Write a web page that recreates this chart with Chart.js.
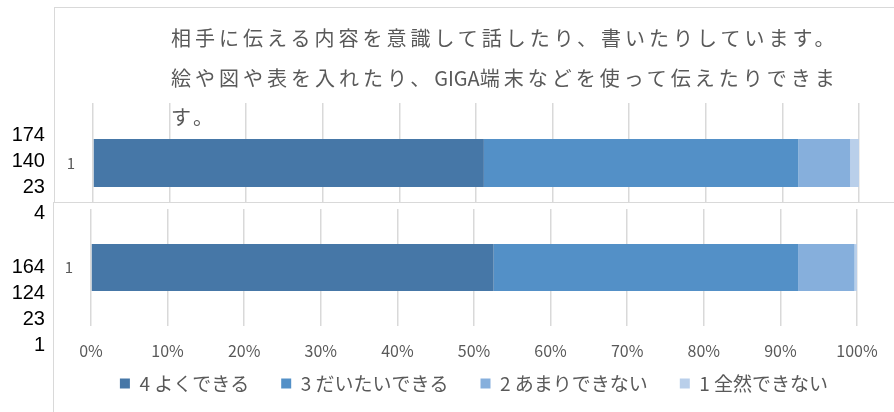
<!DOCTYPE html>
<html>
<head>
<meta charset="utf-8">
<script src="https://cdn.jsdelivr.net/npm/chart.js@4"></script>
<style>
  body { margin: 0; background: #fff; width: 894px; height: 412px; overflow: hidden; position: relative; font-family: "Noto Sans CJK JP", sans-serif; }
  .frame { position: absolute; border-top: 1px solid #d9d9d9; border-left: 1px solid #d9d9d9; }
  #frameTop { left: 54px; top: 7px; width: 900px; height: 194px; z-index: 1; }
  #frameBottom { left: 53px; top: 202px; width: 900px; height: 300px; background: #fff; z-index: 3; }
  #wrapTop { position: absolute; left: 0; top: 0; width: 894px; height: 240px; z-index: 2; }
  #wrapBottom { position: absolute; left: 0; top: 202px; width: 894px; height: 210px; z-index: 4; }
  #title { position: absolute; left: 171px; top: 18px; z-index: 2; color: #595959; font-size: 20px; line-height: 39.5px; letter-spacing: 4px; white-space: nowrap; }
  #title .latin { letter-spacing: 0; }
  .counts { position: absolute; left: 0; width: 45px; text-align: right; font-family: "Liberation Sans", Arial, sans-serif; font-size: 20px; line-height: 26px; color: #000; z-index: 5; }
  #countsTop { top: 121px; }
  #countsBottom { top: 253px; }
</style>
</head>
<body>
<div id="frameTop" class="frame"></div>
<div id="wrapTop"><canvas id="chartTop" width="894" height="240"></canvas></div>
<div id="title"></div>
<div id="frameBottom" class="frame"></div>
<div id="wrapBottom"><canvas id="chartBottom" width="894" height="210"></canvas></div>
<div id="countsTop" class="counts"></div>
<div id="countsBottom" class="counts"></div>
<script>
// 回答データ（人数）
const categories = ['1'];
const seriesNames = ['4 よくできる', '3 だいたいできる', '2 あまりできない', '1 全然できない'];
const topCounts = [174, 140, 23, 4];
const bottomCounts = [164, 124, 23, 1];
const titleLines = [
  '相手に伝える内容を意識して話したり、書いたりしています。',
  '絵や図や表を入れたり、GIGA端末などを使って伝えたりできま',
  'す。'
];

const colors = ['#4677a7', '#5390c7', '#86afdc', '#b9cfea'];
const gridColor = '#d9d9d9';

Chart.defaults.font.family = '"Noto Sans CJK JP", sans-serif';
Chart.defaults.color = '#595959';

// タイトル・左の人数
document.getElementById('title').innerHTML = titleLines
  .map(l => l.replace('GIGA', '<span class="latin">GIGA</span>'))
  .join('<br>');
document.getElementById('countsTop').innerHTML = topCounts.join('<br>');
document.getElementById('countsBottom').innerHTML = bottomCounts.join('<br>');

function toPercent(counts) {
  const total = counts.reduce((a, b) => a + b, 0);
  return counts.map(c => c / total * 100);
}

function makeChart(id, counts, opt) {
  const pct = toPercent(counts);
  return new Chart(document.getElementById(id), {
    type: 'bar',
    data: {
      labels: categories,
      datasets: seriesNames.map((name, i) => ({
        label: name,
        data: [pct[i]],
        backgroundColor: colors[i],
        borderWidth: 0,
        barPercentage: 0.4,
        categoryPercentage: 1
      }))
    },
    options: {
      indexAxis: 'y',
      responsive: false,
      animation: false,
      layout: { padding: opt.padding },
      plugins: {
        tooltip: { enabled: false },
        legend: {
          display: opt.legend,
          position: 'bottom',
          fullSize: false,
          labels: {
            boxWidth: 10,
            boxHeight: 10,
            padding: 13,
            font: { size: 19 },
            color: '#595959',
            // 項目の間をあける
            generateLabels: chart => {
              const items = Chart.defaults.plugins.legend.labels.generateLabels(chart);
              items.forEach((it, i) => { if (i < items.length - 1) it.text += '\u3000'; });
              return items;
            }
          }
        }
      },
      scales: {
        x: {
          stacked: true,
          min: 0,
          max: 100,
          grid: { color: gridColor, lineWidth: 1.5, drawTicks: false },
          border: { display: false },
          ticks: {
            display: opt.ticks,
            stepSize: 10,
            padding: 15,
            font: { size: 16 },
            color: '#595959',
            callback: v => v + '%'
          },
          afterFit: s => { s.height = opt.xHeight; }
        },
        y: {
          stacked: true,
          grid: { display: false, drawTicks: true, tickLength: 21 },
          border: { display: false },
          ticks: { padding: -3, font: { size: 15 }, color: '#595959' },
          afterFit: s => { s.width = 28; }
        }
      }
    }
  });
}

makeChart('chartTop', topCounts, {
  padding: { left: 65, right: 35, top: 103, bottom: 17 },
  legend: false, ticks: false, xHeight: 0
});

makeChart('chartBottom', bottomCounts, {
  padding: { left: 63, right: 37, top: 7, bottom: 9 },
  legend: true, ticks: true, xHeight: 35
});
</script>
</body>
</html>
